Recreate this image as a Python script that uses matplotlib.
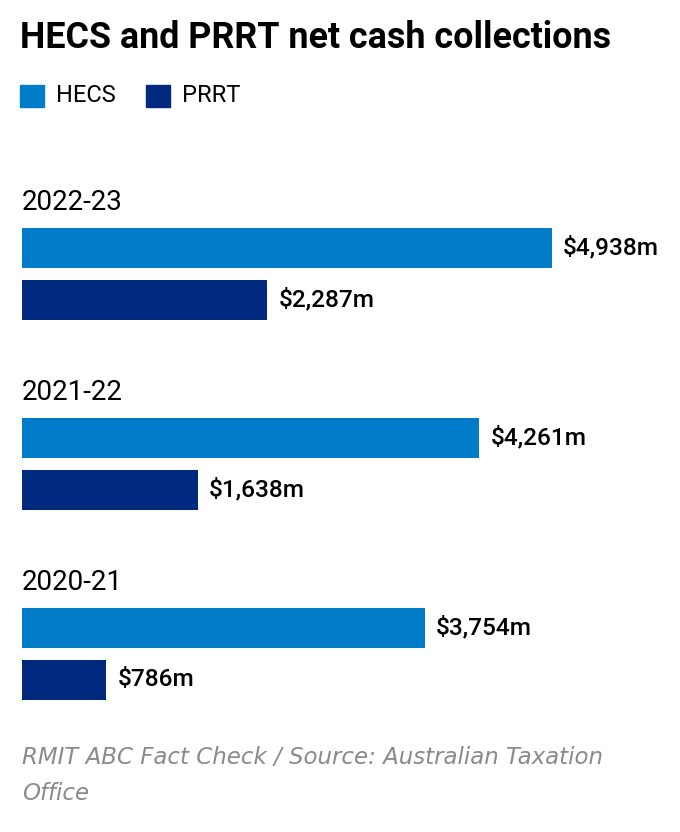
import matplotlib
matplotlib.use("Agg")
import matplotlib.pyplot as plt
from matplotlib.patches import Rectangle

years = ["2022-23", "2021-22", "2020-21"]
hecs = [4938, 4261, 3754]
prrt = [2287, 1638, 786]
hecs_labels = ["$4,938m", "$4,261m", "$3,754m"]
prrt_labels = ["$2,287m", "$1,638m", "$786m"]
series = ["HECS", "PRRT"]
colors = ["#007CC8", "#002A7F"]

W, H = 680, 832
fig = plt.figure(figsize=(W / 100, H / 100), dpi=100)
ax = fig.add_axes([0, 0, 1, 1])
scale = 530 / 4938  # px per unit
left_px = 22
ax.set_xlim(-left_px / scale, (W - left_px) / scale)
ax.set_ylim(H, 0)
ax.axis("off")

font = "Roboto"
group_gap = 190
bar_h = 40
for i, (yr, h, p, hl, pl) in enumerate(zip(years, hecs, prrt, hecs_labels, prrt_labels)):
    base = i * group_gap
    ax.text(0, 203 + base, yr, fontsize=20, family=font, va="center", ha="left", color="#000000")
    ax.barh(248 + base, h, height=bar_h, color=colors[0])
    ax.barh(300 + base, p, height=bar_h, color=colors[1])
    ax.text(h + 11 / scale, 248 + base, hl, fontsize=17.6, family=font, fontweight="medium",
            va="center", ha="left", color="#000000")
    ax.text(p + 11 / scale, 300 + base, pl, fontsize=17.6, family=font, fontweight="medium",
            va="center", ha="left", color="#000000")

# Title
fig.text(20 / W, 1 - 38 / H, "HECS and PRRT net cash collections", fontsize=25.8,
         family=font, fontweight="bold", va="center", ha="left", color="#000000")

# Legend
leg_x = [20, 146]
for lx, name, c in zip(leg_x, series, colors):
    fig.patches.append(Rectangle((lx / W, 1 - 107 / H), 24 / W, 22 / H,
                                 transform=fig.transFigure, color=c))
    fig.text((lx + 36) / W, 1 - 96 / H, name, fontsize=17, family=font,
             va="center", ha="left", color="#000000")

# Footer
fig.text(22 / W, 1 - 757 / H, "RMIT ABC Fact Check / Source: Australian Taxation",
         fontsize=16.5, family="DejaVu Sans", style="oblique", va="center", ha="left", color="#8a8a8a")
fig.text(22 / W, 1 - 793 / H, "Office",
         fontsize=16.5, family="DejaVu Sans", style="oblique", va="center", ha="left", color="#8a8a8a")

fig.savefig("out.png", dpi=100)
